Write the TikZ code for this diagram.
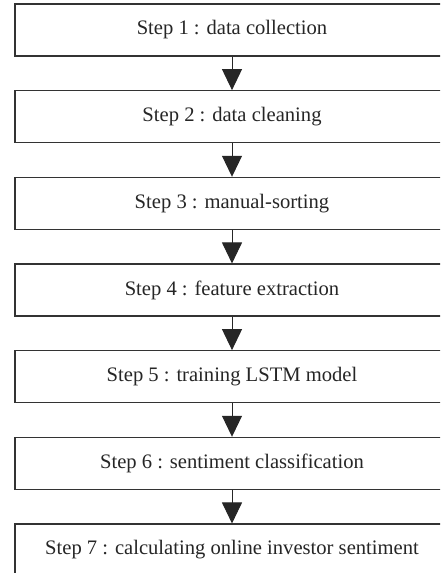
\documentclass[tikz,border=0pt]{standalone}
\usepackage{fontspec}
\setmainfont{Liberation Serif}
\usetikzlibrary{arrows.meta}
\begin{document}
\begin{tikzpicture}[x=1pt,y=1pt,
  stepbox/.style={draw=black!80, line width=1.1pt, minimum width=434pt, minimum height=52pt, inner sep=0pt, font=\fontsize{20.6}{24}\selectfont, text=black!85, fill=white},
  flow/.style={draw=black!85, line width=1pt, -{Triangle[length=21pt,width=20pt]}}]
\useasboundingbox (0,0) rectangle (440,-573);
\clip (0,0) rectangle (440,-573);
\node[stepbox] (s1) at (232,-30) {Step 1 : data collection};
\node[stepbox] (s2) at (232,-116.67) {Step 2 : data cleaning};
\node[stepbox] (s3) at (232,-203.33) {Step 3 : manual-sorting};
\node[stepbox] (s4) at (232,-290) {Step 4 : feature extraction};
\node[stepbox] (s5) at (232,-376.67) {Step 5 : training LSTM model};
\node[stepbox] (s6) at (232,-463.33) {Step 6 : sentiment classification};
\node[stepbox] (s7) at (232,-550) {Step 7 : calculating online investor sentiment};
\draw[flow] (s1) -- (s2);
\draw[flow] (s2) -- (s3);
\draw[flow] (s3) -- (s4);
\draw[flow] (s4) -- (s5);
\draw[flow] (s5) -- (s6);
\draw[flow] (s6) -- (s7);
\end{tikzpicture}
\end{document}
